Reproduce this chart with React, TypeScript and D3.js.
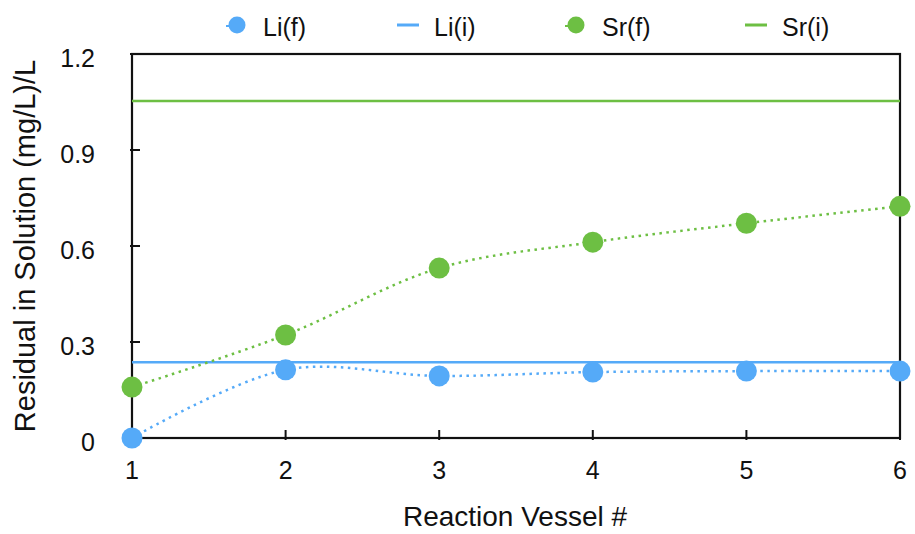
import { scaleLinear, line as d3line, curveCatmullRom } from "d3";

const vessels = [1, 2, 3, 4, 5, 6];
const liFinal = [0, 0.213, 0.194, 0.206, 0.209, 0.209];
const srFinal = [0.159, 0.322, 0.531, 0.612, 0.671, 0.724];
const liInitial = 0.237;
const srInitial = 1.053;
const yTickValues = [0, 0.3, 0.6, 0.9, 1.2];

const WIDTH = 915;
const HEIGHT = 534;
const MARGIN = { top: 54, right: 15, bottom: 96, left: 132 };

const BLUE = "#55aaf8";
const GREEN = "#6dbf43";
const FONT = "'Liberation Sans', Arial, Helvetica, sans-serif";

export default function App() {
  const innerW = WIDTH - MARGIN.left - MARGIN.right;
  const innerH = HEIGHT - MARGIN.top - MARGIN.bottom;

  const x = scaleLinear().domain([1, 6]).range([0, innerW]);
  const y = scaleLinear().domain([0, 1.2]).range([innerH, 0]);

  const curve = d3line<number>()
    .x((_, i) => x(vessels[i]))
    .y((v) => y(v))
    .curve(curveCatmullRom.alpha(0.5));

  const fmt = (t: number) => (t === 0 ? "0" : t.toFixed(1));

  // legend item anchor = marker centre, text starts 26px to the right
  const legend = [
    { label: "Li(f)", color: BLUE, kind: "dot", x: 237 },
    { label: "Li(i)", color: BLUE, kind: "line", x: 408 },
    { label: "Sr(f)", color: GREEN, kind: "dot", x: 576 },
    { label: "Sr(i)", color: GREEN, kind: "line", x: 756 },
  ];

  return (
    <svg
      width={WIDTH}
      height={HEIGHT}
      style={{ position: "absolute", left: 0, top: 0, background: "white" }}
      fontFamily={FONT}
    >
      {/* legend */}
      {legend.map((d) => (
        <g key={d.label} transform={`translate(${d.x},25)`}>
          {d.kind === "dot" ? (
            <>
              <line x1={-11} x2={0} y1={1} y2={1} stroke={d.color} strokeWidth={2} />
              <circle r={8.5} fill={d.color} />
            </>
          ) : (
            <line x1={-11} x2={11} y1={0} y2={0} stroke={d.color} strokeWidth={3} />
          )}
          <text x={26} y={11} fontSize={25} fill="#111">
            {d.label}
          </text>
        </g>
      ))}

      <g transform={`translate(${MARGIN.left},${MARGIN.top})`}>
        {/* frame */}
        <rect x={0} y={0} width={innerW} height={innerH} fill="none" stroke="#111" strokeWidth={2.2} />

        {yTickValues.map((t) => (
          <g key={t}>
            <line x1={-2} x2={8} y1={y(t)} y2={y(t)} stroke="#111" strokeWidth={2} />
            <text x={-37} y={y(t) + 13} textAnchor="end" fontSize={25} fill="#111">
              {fmt(t)}
            </text>
          </g>
        ))}
        {vessels.map((v) => (
          <g key={v}>
            <line x1={x(v)} x2={x(v)} y1={innerH + 2} y2={innerH - 8} stroke="#111" strokeWidth={2} />
            <text x={x(v)} y={innerH + 41} textAnchor="middle" fontSize={25} fill="#111">
              {v}
            </text>
          </g>
        ))}

        {/* initial concentrations */}
        <line x1={0} x2={innerW} y1={y(srInitial)} y2={y(srInitial)} stroke={GREEN} strokeWidth={2.5} />
        <line x1={0} x2={innerW} y1={y(liInitial)} y2={y(liInitial)} stroke={BLUE} strokeWidth={2.5} />

        {/* final concentrations */}
        <path d={curve(srFinal) ?? ""} fill="none" stroke={GREEN} strokeWidth={2.5} strokeDasharray="2.5 4.5" />
        <path d={curve(liFinal) ?? ""} fill="none" stroke={BLUE} strokeWidth={2.5} strokeDasharray="2.5 4.5" />

        {srFinal.map((v, i) => (
          <circle key={`sr${i}`} cx={x(vessels[i])} cy={y(v)} r={10.5} fill={GREEN} />
        ))}
        {liFinal.map((v, i) => (
          <circle key={`li${i}`} cx={x(vessels[i])} cy={y(v)} r={10.5} fill={BLUE} />
        ))}
      </g>

      <text x={515} y={526} textAnchor="middle" fontSize={28} fill="#111">
        Reaction Vessel #
      </text>
      <text
        transform={`translate(35,${MARGIN.top + innerH / 2}) rotate(-90)`}
        textAnchor="middle"
        fontSize={29}
        fill="#111"
      >
        Residual in Solution (mg/L)/L
      </text>
    </svg>
  );
}
